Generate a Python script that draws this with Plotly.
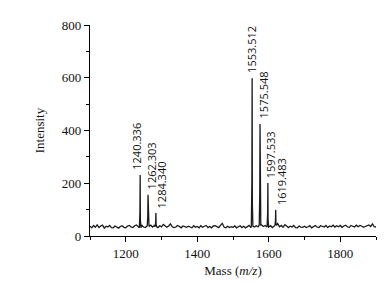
import plotly.graph_objects as go

# ---- data ----
baseline_start = 1100
baseline_step = 5
baseline_vals = [
    37,31,40,33,42,32,38,41,30,37,34,40,32,31,38,35,30,36,39,33,
    31,38,40,34,32,39,42,35,31,40,34,32,39,36,41,34,40,35,32,39,
    35,44,38,33,38,46,35,32,34,40,36,31,38,34,33,37,34,31,39,33,
    36,31,39,33,37,40,32,36,31,38,39,34,32,40,48,34,31,37,32,35,
    33,38,31,35,39,32,37,31,35,40,32,37,34,39,35,41,42,36,40,35,
    34,39,32,37,40,47,35,40,33,43,38,32,37,34,40,32,31,38,34,33,
    37,32,35,39,31,37,40,34,32,39,36,34,40,32,38,35,41,34,39,35,
    40,33,38,41,35,32,40,37,34,41,35,40,38,33,36,40,42,36,46,35,
    34,
]
peak_mass = [1240.336, 1262.303, 1284.340, 1553.512, 1575.548, 1597.533, 1619.483]
peak_height = [231, 156, 87, 598, 425, 201, 99]
peak_labels = ["1240.336", "1262.303", "1284.340", "1553.512", "1575.548", "1597.533", "1619.483"]

# ---- style ----
label_xshift = [-4, 3, 6, 0, 3, 3, 6]
peak_offsets = [-2.2, -0.7, 0.0, 0.6, 2.2]
peak_fracs = [0.0, 0.3, 1.0, 0.15, 0.0]

base_x = [baseline_start + baseline_step * i for i in range(len(baseline_vals))]

def nearest_base(m):
    i = min(range(len(base_x)), key=lambda k: abs(base_x[k] - m))
    return baseline_vals[i]

pts = []
for x, y in zip(base_x, baseline_vals):
    if all(abs(x - m) > 2.5 for m in peak_mass):
        pts.append((x, y))
for m, h in zip(peak_mass, peak_height):
    b = nearest_base(m)
    for o, f in zip(peak_offsets, peak_fracs):
        pts.append((m + o, b + f * (h - b)))
pts.sort()
xs = [p[0] for p in pts]
ys = [p[1] for p in pts]

font_family = "Liberation Serif"
label_family = "Open Sans"

fig = go.Figure()
fig.add_trace(go.Scatter(x=xs, y=ys, mode="lines",
                         line=dict(color="#1a1a1a", width=1.3),
                         hoverinfo="skip", showlegend=False))

for m, h, t, dx in zip(peak_mass, peak_height, peak_labels, label_xshift):
    fig.add_annotation(x=m, y=h, text=t, showarrow=False, textangle=-90,
                       xanchor="center", yanchor="bottom", xshift=dx, yshift=3,
                       font=dict(family=label_family, size=11, color="#111"))

axis_common = dict(showline=True, linecolor="black", linewidth=1.2,
                   ticks="outside", ticklen=5, tickwidth=1.2, tickcolor="black",
                   showgrid=False, zeroline=False, mirror=False,
                   tickfont=dict(family=font_family, size=13, color="#111"))

fig.update_layout(
    width=392, height=283,
    margin=dict(l=90, r=16, t=25, b=47),
    paper_bgcolor="white", plot_bgcolor="white",
    font=dict(family=font_family, color="#111"),
    xaxis=dict(range=[1100, 1900], tickvals=[1200, 1400, 1600, 1800],
               minor=dict(ticks="outside", ticklen=3, dtick=100, tick0=1100, tickcolor="black"),
               title=dict(text="Mass (<i>m/z</i>)", font=dict(family=font_family, size=13), standoff=6),
               **axis_common),
    yaxis=dict(range=[0, 800], tickvals=[0, 200, 400, 600, 800],
               minor=dict(ticks="outside", ticklen=3, dtick=100, tick0=0, tickcolor="black"),
               title=dict(text="Intensity", font=dict(family=font_family, size=13), standoff=14),
               **axis_common),
)
fig.update_xaxes(automargin=False)
fig.update_yaxes(automargin=False)

fig.write_html("out.html", config={"displayModeBar": False},
               post_script="document.body.style.margin='0';document.body.style.overflow='hidden';")
